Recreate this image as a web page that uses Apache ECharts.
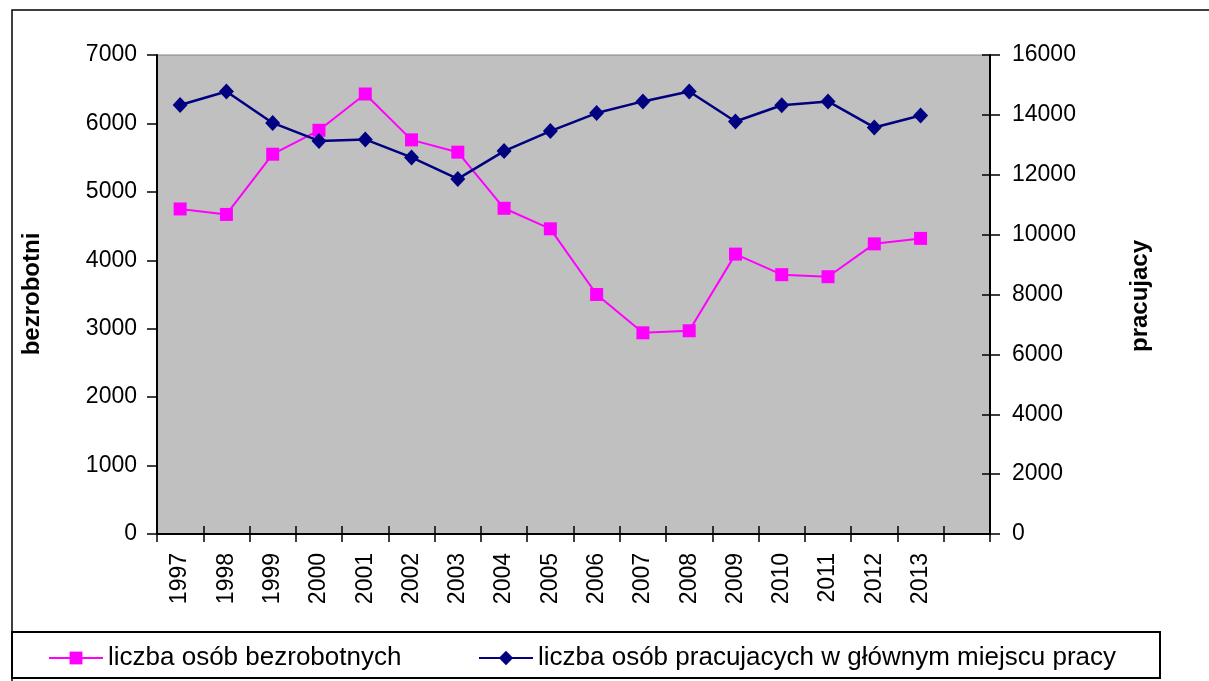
<!DOCTYPE html>
<html>
<head>
<meta charset="utf-8">
<script src="https://cdn.jsdelivr.net/npm/echarts@6/dist/echarts.min.js"></script>
<style>
	html, body { margin: 0; padding: 0; background: #fff; }
	#chart { width: 1209px; height: 681px; }
</style>
</head>
<body>
<div id="chart"></div>
<script>
	// dane
	var years = ['1997', '1998', '1999', '2000', '2001', '2002', '2003', '2004', '2005',
		'2006', '2007', '2008', '2009', '2010', '2011', '2012', '2013', ''];
	var bezrobotni = [4750, 4670, 5550, 5900, 6430, 5760, 5580, 4760, 4460,
		3500, 2940, 2970, 4090, 3790, 3760, 4240, 4320];
	var pracujacy = [14330, 14780, 13730, 13130, 13180, 12580, 11860, 12790, 13460,
		14060, 14450, 14780, 13780, 14320, 14450, 13580, 13980];
	var leftAxis = [0, 7000, 1000];    // min, max, krok
	var rightAxis = [0, 16000, 2000];
	var name1 = 'liczba osób bezrobotnych';
	var name2 = 'liczba osób pracujacych w głównym miejscu pracy';

	var font = "'Liberation Sans', Arial, sans-serif";
	var plain = function(v) { return String(v); };  // bez separatora tysiecy
	var chart = echarts.init(document.getElementById('chart'));

	chart.setOption({
		backgroundColor: '#fff',
		animation: false,
		textStyle: { fontFamily: font, color: '#000' },
		grid: {
			left: 157, right: 219, top: 55, bottom: 147,
			show: true,
			backgroundColor: '#c0c0c0',
			borderColor: '#808080',
			borderWidth: 1
		},
		legend: [{
			data: [name1],
			left: 43, top: 640,
			itemWidth: 54, itemHeight: 16, itemGap: 0,
			textStyle: { fontFamily: font, fontSize: 26, color: '#000' }
		}, {
			data: [name2],
			left: 473, top: 640,
			itemWidth: 54, itemHeight: 18,
			textStyle: { fontFamily: font, fontSize: 26, color: '#000' }
		}],
		xAxis: [{
			type: 'category',
			data: years,
			position: 'bottom',
			boundaryGap: true,
			axisLine: { lineStyle: { color: '#000', width: 2 } },
			axisTick: { show: true, length: 8, lineStyle: { color: '#000', width: 1.5 } },
			axisLabel: { rotate: 90, margin: 19, fontSize: 23, color: '#000', fontFamily: font, interval: 0 },
			splitLine: { show: false }
		}, {
			// drugi zestaw kresek do wewnatrz
			type: 'category',
			data: years,
			position: 'bottom',
			boundaryGap: true,
			axisLine: { show: false },
			axisTick: { show: true, inside: true, length: 8, lineStyle: { color: '#000', width: 1.5 } },
			axisLabel: { show: false },
			splitLine: { show: false }
		}],
		yAxis: [{
			type: 'value',
			position: 'left',
			min: leftAxis[0], max: leftAxis[1], interval: leftAxis[2],
			axisLine: { show: true, lineStyle: { color: '#000', width: 2 } },
			axisTick: { show: true, length: 10, lineStyle: { color: '#000', width: 1.5 } },
			axisLabel: { margin: 20, fontSize: 23, color: '#000', fontFamily: font, formatter: plain },
			splitLine: { show: false }
		}, {
			type: 'value',
			position: 'right',
			min: rightAxis[0], max: rightAxis[1], interval: rightAxis[2],
			axisLine: { show: true, lineStyle: { color: '#000', width: 2 } },
			axisTick: { show: true, length: 10, lineStyle: { color: '#000', width: 1.5 } },
			axisLabel: { margin: 22, fontSize: 23, color: '#000', fontFamily: font, formatter: plain },
			splitLine: { show: false }
		}, {
			type: 'value',
			position: 'right',
			min: rightAxis[0], max: rightAxis[1], interval: rightAxis[2],
			axisLine: { show: false },
			axisTick: { show: true, inside: true, length: 8, lineStyle: { color: '#000', width: 1.5 } },
			axisLabel: { show: false },
			splitLine: { show: false }
		}],
		series: [{
			name: name1,
			type: 'line',
			yAxisIndex: 0,
			data: bezrobotni,
			symbol: 'rect',
			symbolSize: 13,
			lineStyle: { color: '#ff00ff', width: 2 },
			itemStyle: { color: '#ff00ff', borderWidth: 0 },
			z: 3
		}, {
			name: name2,
			type: 'line',
			yAxisIndex: 1,
			data: pracujacy,
			symbol: 'diamond',
			symbolSize: [15, 16],
			lineStyle: { color: '#000080', width: 2.5 },
			itemStyle: { color: '#000080', borderWidth: 0 },
			z: 4
		}],
		graphic: [{
			type: 'rect',
			shape: { x: 12, y: 10, width: 1220, height: 700 },
			style: { fill: 'none', stroke: '#000', lineWidth: 1.5 },
			silent: true
		}, {
			type: 'rect',
			shape: { x: 12, y: 632, width: 1148, height: 46 },
			style: { fill: 'none', stroke: '#000', lineWidth: 2 },
			silent: true
		}, {
			type: 'text',
			x: 32, y: 294, rotation: Math.PI / 2,
			style: { text: 'bezrobotni', font: 'bold 24px ' + font, fill: '#000', align: 'center', verticalAlign: 'middle' }
		}, {
			type: 'text',
			x: 1140, y: 296, rotation: Math.PI / 2,
			style: { text: 'pracujacy', font: 'bold 24px ' + font, fill: '#000', align: 'center', verticalAlign: 'middle' }
		}]
	});
</script>
</body>
</html>
